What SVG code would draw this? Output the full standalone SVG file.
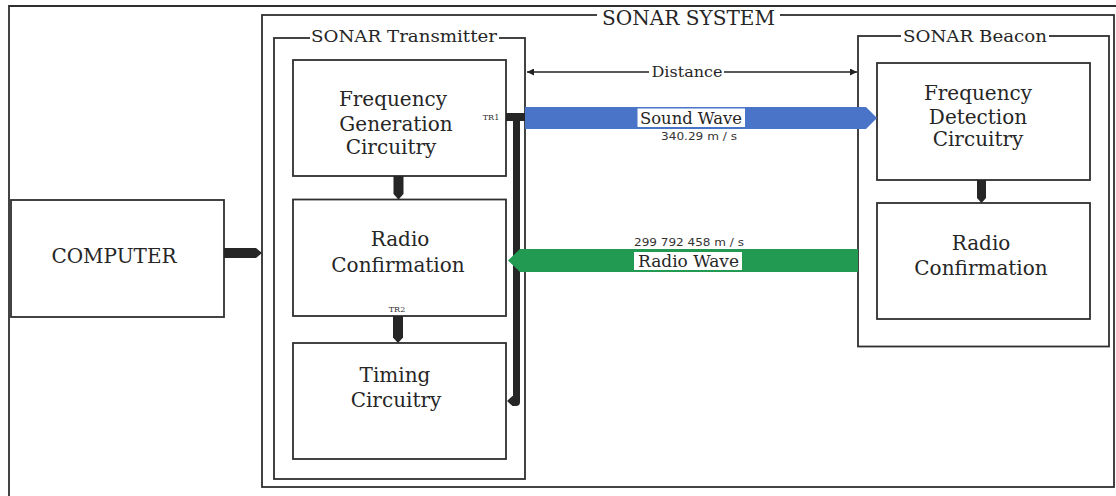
<svg xmlns="http://www.w3.org/2000/svg" width="1116" height="496" viewBox="0 0 1116 496">
<style>
.frame{fill:none;stroke:#2f2f2f;stroke-width:1.8}
.box{fill:#fff;stroke:#2f2f2f;stroke-width:1.8}
.t{font-family:"DejaVu Serif","Liberation Serif",serif;fill:#262626;text-anchor:middle}
.big{font-size:20px}
.title{font-size:17px}
.small{font-family:"DejaVu Sans","Liberation Sans",sans-serif;font-size:11px;fill:#333;text-anchor:middle}
.tr{font-family:"DejaVu Serif",serif;font-size:8px;fill:#333;text-anchor:middle}
.dark{fill:#262626}
.gap{fill:#fff}
</style>
<defs>
<marker id="ah" viewBox="0 0 10 10" refX="10" refY="5" markerWidth="7" markerHeight="7" orient="auto-start-reverse" markerUnits="userSpaceOnUse">
<path d="M0,0 L10,5 L0,10 Z" fill="#222"/>
</marker>
</defs>
<rect width="1116" height="496" fill="#fff"/>
<!-- outer frame -->
<path class="frame" d="M9 500 V6 H1120"/>
<g id="sonar-system">
<rect class="frame" x="262" y="15" width="852" height="472"/>
<rect class="gap" x="597" y="8" width="183" height="20"/>
<text class="t" x="688.5" y="25" font-size="19.5" textLength="173" lengthAdjust="spacingAndGlyphs">SONAR SYSTEM</text>
</g>
<g id="computer">
<rect class="box" x="11" y="200" width="213" height="117"/>
<text class="t big" x="114" y="263">COMPUTER</text>
</g>
<g id="transmitter">
<rect class="frame" x="274" y="38" width="251" height="441"/>
<rect class="gap" x="310" y="30" width="189" height="14"/>
<text class="t title" x="404" y="42" textLength="186" lengthAdjust="spacingAndGlyphs">SONAR Transmitter</text>
</g>
<g id="freq-gen">
<rect class="box" x="293" y="60" width="213" height="116"/>
<text class="t big" x="393" y="106">Frequency</text>
<text class="t big" x="396" y="130.5">Generation</text>
<text class="t big" x="391" y="154">Circuitry</text>
<text class="tr" x="491" y="120">TR1</text>
</g>
<g id="radio-tx">
<rect class="box" x="293" y="199.5" width="213" height="116.5"/>
<text class="t big" x="400" y="246">Radio</text>
<text class="t big" x="398" y="271.5">Confirmation</text>
<text class="tr" x="397" y="311.5">TR2</text>
</g>
<g id="timing">
<rect class="box" x="293" y="343" width="213" height="116"/>
<text class="t big" x="395" y="382">Timing</text>
<text class="t big" x="396" y="406.5">Circuitry</text>
</g>
<g id="beacon">
<rect class="frame" x="858" y="36" width="251" height="310.5"/>
<rect class="gap" x="901" y="28" width="148" height="14"/>
<text class="t title" x="975" y="42" textLength="144" lengthAdjust="spacingAndGlyphs">SONAR Beacon</text>
</g>
<g id="freq-detect">
<rect class="box" x="877" y="63" width="213" height="117"/>
<text class="t big" x="978" y="100">Frequency</text>
<text class="t big" x="978" y="123.5">Detection</text>
<text class="t big" x="978" y="146">Circuitry</text>
</g>
<g id="radio-rx">
<rect class="box" x="877" y="203" width="213" height="116"/>
<text class="t big" x="981" y="250">Radio</text>
<text class="t big" x="981" y="275">Confirmation</text>
</g>
<g id="connectors">
<!-- computer to system -->
<polygon class="dark" points="224,248 256,248 262,253 256,258 224,258"/>
<!-- transmitter internal -->
<polygon class="dark" points="393.5,176 403.5,176 403.5,194 398.5,199.5 393.5,194"/>
<polygon class="dark" points="393,316 403,316 403,337.5 398,343 393,337.5"/>
<!-- beacon internal -->
<polygon class="dark" points="977,180 986,180 986,198 981.5,203 977,198"/>
<!-- TR1 feedback path -->
<path class="dark" d="M506 113 H525 V121 H520 V402 Q520 406 516 406 H512.5 L507 401 L512.5 396 H513 V121 H506 Z"/>
<!-- distance -->
<line x1="527" y1="72" x2="857" y2="72" stroke="#222" stroke-width="1.3" marker-start="url(#ah)" marker-end="url(#ah)"/>
<rect class="gap" x="649" y="62" width="75" height="16"/>
<text class="t" x="687" y="76.5" font-size="15.5" textLength="71" lengthAdjust="spacingAndGlyphs">Distance</text>
<!-- sound wave -->
<polygon fill="#4a74c7" points="525,107 866,107 877,118 866,129 525,129"/>
<rect fill="#fff" x="637.5" y="108.5" width="107.5" height="18.5"/>
<text class="t" x="691" y="123.5" font-size="16" textLength="102" lengthAdjust="spacingAndGlyphs">Sound Wave</text>
<text class="small" x="699" y="140" textLength="76" lengthAdjust="spacingAndGlyphs">340.29 m / s</text>
<!-- radio wave -->
<polygon fill="#229a52" points="858,249 520,249 508,260.5 520,272 858,272"/>
<rect fill="#fff" x="634" y="252" width="108" height="18"/>
<text class="t" x="688.5" y="266.5" font-size="16" textLength="101" lengthAdjust="spacingAndGlyphs">Radio  Wave</text>
<text class="small" x="689" y="246" textLength="110" lengthAdjust="spacingAndGlyphs">299 792 458 m / s</text>
</g>
</svg>
